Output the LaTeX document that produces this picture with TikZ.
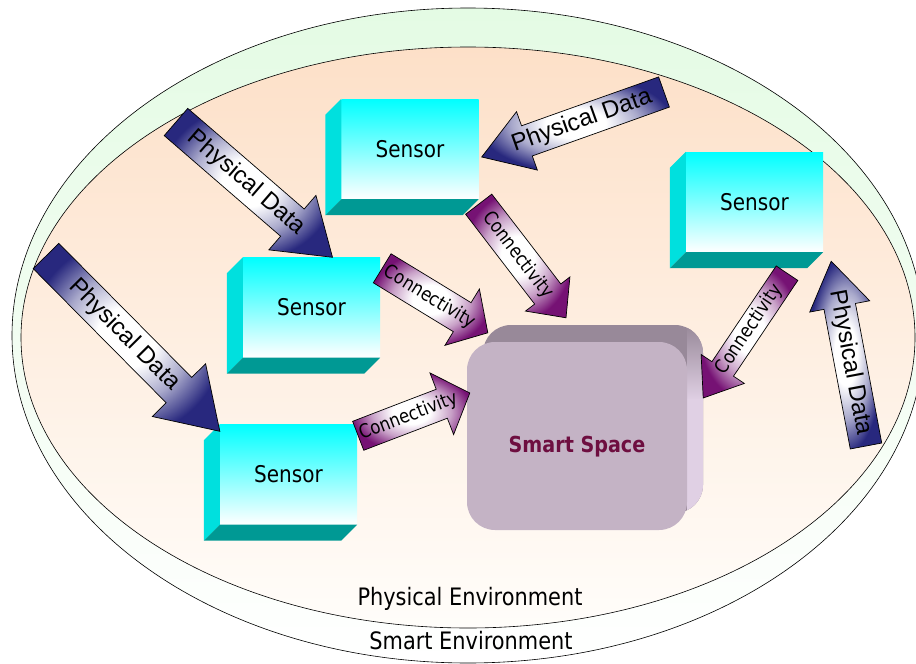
\documentclass[tikz,border=0pt]{standalone}
\usepackage{fontspec}
\usetikzlibrary{calc}
\newfontfamily\labelfont[FakeStretch=0.87]{DejaVu Sans}
\newfontfamily\arrowfont{Liberation Sans}

\definecolor{pdnavy}{RGB}{40,40,126}
\definecolor{cnpurple}{RGB}{118,18,116}
\definecolor{sensortop}{RGB}{0,255,255}
\definecolor{sensorside}{RGB}{0,224,222}
\definecolor{sensorbase}{RGB}{0,153,148}
\definecolor{ssfront}{RGB}{196,179,197}
\definecolor{sstop}{RGB}{152,137,153}
\definecolor{ssside}{RGB}{224,208,228}
\definecolor{sstext}{RGB}{110,14,64}
\definecolor{envpeach}{RGB}{253,224,200}
\definecolor{envpale}{RGB}{255,253,250}
\definecolor{ringgreen}{RGB}{228,251,228}

% glow fills for the block arrows: pale centre, saturated rim
% (the path's bounding box spans radius 25bp of the shading)
\pgfdeclareradialshading{pdglow}{\pgfpoint{0bp}{0bp}}{color(0bp)=(white); color(8bp)=(white); color(17bp)=(pdnavy!40!white); color(26bp)=(pdnavy); color(50bp)=(pdnavy)}
\pgfdeclareradialshading{cnglow}{\pgfpoint{0bp}{0bp}}{color(0bp)=(white); color(8bp)=(white); color(17bp)=(cnpurple!40!white); color(26bp)=(cnpurple); color(50bp)=(cnpurple)}

% block arrow from a tail coordinate to a tip coordinate
% #1 shading, #2 tail, #3 tip, #4 shaft width, #5 head width, #6 head length, #7 label style, #8 label
\newcommand\blockarrow[8]{%
  \path let \p1=(#2), \p2=(#3), \n1={atan2(\y2-\y1,\x2-\x1)}, \n2={veclen(\x2-\x1,\y2-\y1)} in
    \pgfextra{\xdef\baAng{\n1}\xdef\baLen{\n2}};
  \pgfmathsetlengthmacro\baNeck{\baLen-#6}
  \pgfmathsetlengthmacro\baEnd{\baLen}
  \pgfmathsetlengthmacro\baW{#4/2}
  \pgfmathsetlengthmacro\baH{#5/2}
  \pgfmathsetmacro\baTxt{abs(\baAng)>90 ? \baAng+180 : \baAng}
  \begin{scope}[shift={(#2)}, rotate=\baAng]
    \shade[shading=#1, draw=black, line width=0.7pt, line join=miter]
      (0pt,-\baW) -- (\baNeck,-\baW) -- (\baNeck,-\baH) -- (\baEnd,0pt)
      -- (\baNeck,\baH) -- (\baNeck,\baW) -- (0pt,\baW) -- cycle;
  \end{scope}
  \node[#7, rotate=\baTxt] (#2lbl) at ($(#2)!0.45!(#3)$) {#8};
}

% extruded left and bottom faces of a sensor block
\newcommand\sensorfaces[1]{%
  \fill[sensorside] (#1.north west) -- (#1.south west) -- ++(-16,16)
    -- ($(#1.north west)+(-16,16)$) -- cycle;
  \fill[sensorbase] (#1.south west) -- (#1.south east) -- ++(-16,16)
    -- ($(#1.south west)+(-16,16)$) -- cycle;
}

\tikzset{
  sensorbox/.style={rectangle, minimum width=137pt, minimum height=100pt, inner sep=0pt,
    top color=sensortop, bottom color=white,
    font=\labelfont\fontsize{23pt}{26pt}\selectfont},
  smartface/.style={rectangle, rounded corners=28pt, fill=ssfront,
    minimum width=220pt, minimum height=188pt, inner sep=0pt},
  smartlabel/.style={text=sstext, font=\labelfont\bfseries\fontsize{22pt}{25pt}\selectfont},
  envlabel/.style={font=\labelfont\fontsize{24pt}{27pt}\selectfont, inner sep=0pt},
  pdlabel/.style={font=\arrowfont\fontsize{24pt}{26pt}\selectfont, inner sep=0pt},
  cnlabel/.style={font=\labelfont\fontsize{19pt}{21pt}\selectfont, inner sep=0pt},
}

\begin{document}
\begin{tikzpicture}[x=1pt, y=-1pt]
\useasboundingbox (0,0) rectangle (916,664);
\fill[white] (0,0) rectangle (916,664);

% smart environment and physical environment
\shade[top color=ringgreen, bottom color=white, draw=black, line width=0.6pt]
  (468,335.5) ellipse [x radius=456, y radius=327.5];
\shade[top color=envpeach, bottom color=envpale, draw=black, line width=0.6pt]
  (468,337.5) ellipse [x radius=447, y radius=290.5];

\node[envlabel] (penv) at (470,599) {Physical Environment};
\node[envlabel] (senv) at (471,641) {Smart Environment};

% sensors
\node[sensorbox] (s1) at (410,149) {Sensor};
\node[sensorbox] (s2) at (311.5,307.5) {Sensor};
\node[sensorbox] (s3) at (288.5,474.5) {Sensor};
\node[sensorbox] (s4) at (754.5,202) {Sensor};
\sensorfaces{s1}
\sensorfaces{s2}
\sensorfaces{s3}
\sensorfaces{s4}

% smart space block: back face, side strip, front face
\fill[sstop, rounded corners=28pt] (483,325) rectangle (703,513);
\begin{scope}
  \clip[rounded corners=28pt] (483,325) rectangle (703,513);
  \shade[top color=sstop, bottom color=ssside] (687,325) rectangle (705,400);
  \fill[ssside] (687,399) rectangle (705,513);
\end{scope}
\node[smartface] (ss) at (577,436) {};
\node[smartlabel] (sslabel) at ($(ss.center)+(0,11)$) {Smart Space};

% arrow end points
\coordinate (pdA) at (176,122);
\coordinate (pdAend) at ($(s2.north)+(21,0)$);
\coordinate (pdB) at (46,256);
\coordinate (pdBend) at ($(s3.north west)+(0,7)$);
\coordinate (pdC) at (664,92);
\coordinate (pdCend) at ($(s1.east)+(3,8)$);
\coordinate (pdD) at (866,446);
\coordinate (pdDend) at ($(s4.south east)+(8,9)$);

\coordinate (cnA) at ($(s1.south east)+(0,5)$);
\coordinate (cnAend) at ($(ss.north)+(-11,-24)$);
\coordinate (cnB) at ($(s2.north east)+(2,11)$);
\coordinate (cnBend) at ($(ss.north west)+(21,-9)$);
\coordinate (cnC) at ($(s3.north east)+(1,11.5)$);
\coordinate (cnCend) at ($(ss.west)+(3,-43)$);
\coordinate (cnD) at ($(s4.south)+(32.5,21)$);
\coordinate (cnDend) at ($(ss.east)+(16,-38)$);

% physical data flowing into the sensors
\blockarrow{pdglow}{pdA}{pdAend}{36}{72}{53}{pdlabel}{Physical Data}
\blockarrow{pdglow}{pdB}{pdBend}{36}{75}{58}{pdlabel}{Physical Data}
\blockarrow{pdglow}{pdC}{pdCend}{32}{62}{48}{pdlabel}{Physical Data}
\blockarrow{pdglow}{pdD}{pdDend}{32}{61}{46}{pdlabel}{Physical Data}

% connectivity from the sensors to the smart space
\blockarrow{cnglow}{cnA}{cnAend}{33}{56}{30}{cnlabel}{Connectivity}
\blockarrow{cnglow}{cnB}{cnBend}{34}{66}{30}{cnlabel}{Connectivity}
\blockarrow{cnglow}{cnC}{cnCend}{31}{66}{30}{cnlabel}{Connectivity}
\blockarrow{cnglow}{cnD}{cnDend}{26}{52}{35}{cnlabel}{Connectivity}
\end{tikzpicture}
\end{document}
